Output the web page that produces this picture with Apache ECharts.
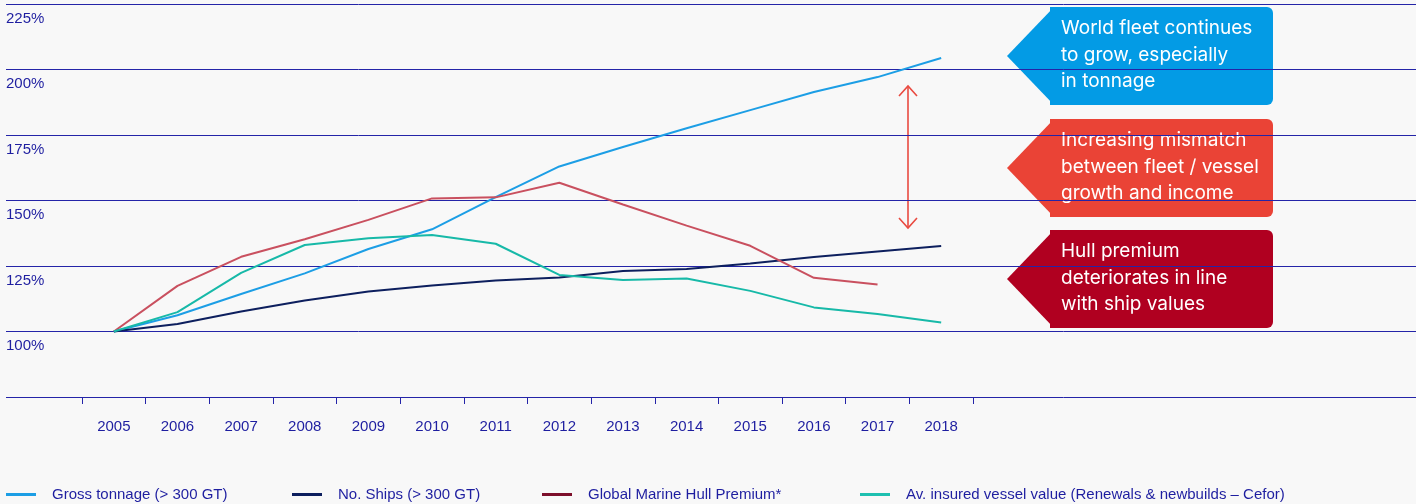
<!DOCTYPE html>
<html>
<head>
<meta charset="utf-8">
<script src="https://cdn.jsdelivr.net/npm/echarts@6/dist/echarts.min.js"></script>
<style>
  html, body { margin: 0; padding: 0; background: #f8f8f8; }
  #chart { width: 1416px; height: 504px; }
</style>
</head>
<body>
<div id="chart"></div>
<script>
  // data (index, 2005 = 100%)
  var years = ['2005','2006','2007','2008','2009','2010','2011','2012','2013','2014','2015','2016','2017','2018'];
  var grossTonnage = [100, 106.2, 114.3, 122.2, 131.5, 139, 151.3, 163, 170.4, 177.6, 184.5, 191.4, 197.1, 204.4];
  var noShips = [100, 102.9, 107.6, 111.8, 115.3, 117.6, 119.5, 120.6, 123.1, 123.9, 126, 128.4, 130.5, 132.6];
  var hullPremium = [100, 117.4, 128.5, 135.2, 142.6, 150.8, 151.2, 156.8, 148.5, 140.4, 132.7, 120.5, 117.9];
  var insuredValue = [100, 107.4, 122.4, 133, 135.6, 136.8, 133.5, 121.6, 119.7, 120.2, 115.5, 109.2, 106.7, 103.4];
  var yTicks = [75, 100, 125, 150, 175, 200, 225];

  var seriesNames = ['Gross tonnage (> 300 GT)', 'No. Ships (> 300 GT)', 'Global Marine Hull Premium*', 'Av. insured vessel value (Renewals & newbuilds \u2013 Cefor)'];
  var seriesData = [grossTonnage, noShips, hullPremium, insuredValue];
  var lineColors = ['#1c9ee5', '#0d1f5e', '#c9505f', '#17b9a8'];
  var legendColors = ['#1c9ee5', '#0d1f5e', '#7d0f2b', '#1fc0b0'];
  var legendLeft = [6, 292, 542, 860];

  var callouts = [
    {text: 'World fleet continues\nto grow, especially\nin tonnage', color: '#039be5', top: 7},
    {text: 'Increasing mismatch\nbetween fleet / vessel\ngrowth and income', color: '#ea4336', top: 119},
    {text: 'Hull premium\ndeteriorates in line\nwith ship values', color: '#b00020', top: 230}
  ];

  var axisBlue = '#2424a8';
  var textBlue = '#1e1ea0';

  var myChart = echarts.init(document.getElementById('chart'));

  var series = [];
  for (var i = 0; i < seriesNames.length; i++) {
    series.push({
      name: seriesNames[i],
      type: 'line',
      xAxisIndex: 1,
      yAxisIndex: 1,
      data: seriesData[i],
      symbol: 'none',
      color: lineColors[i],
      lineStyle: { width: 2, color: lineColors[i] }
    });
  }

  var legends = [];
  for (var j = 0; j < seriesNames.length; j++) {
    legends.push({
      data: [{ name: seriesNames[j], itemStyle: { color: legendColors[j] } }],
      left: legendLeft[j],
      top: 487,
      padding: 0,
      icon: 'rect',
      itemWidth: 30,
      itemHeight: 3,
      selectedMode: false,
      textStyle: {
        color: textBlue,
        fontFamily: 'Liberation Sans',
        fontSize: 15,
        padding: [0, 0, 0, 11]
      }
    });
  }

  var graphics = [];
  // callout boxes with arrow to the left
  callouts.forEach(function (c) {
    var t = c.top, h = 98;
    graphics.push({
      type: 'rect',
      shape: { x: 1050, y: t, width: 223, height: h, r: [0, 6, 6, 0] },
      style: { fill: c.color }
    });
    graphics.push({
      type: 'polygon',
      shape: { points: [[1054, t], [1007, t + h / 2], [1054, t + h]] },
      style: { fill: c.color }
    });
    graphics.push({
      type: 'text',
      x: 1061,
      y: t + h / 2 - 1,
      style: {
        text: c.text,
        fill: '#ffffff',
        font: '19px Inter',
        lineHeight: 26.5,
        verticalAlign: 'middle',
        align: 'left'
      }
    });
  });
  // red double-headed arrow
  var arrowStyle = { stroke: '#e94a40', lineWidth: 1.6, fill: null };
  graphics.push({ type: 'line', shape: { x1: 908, y1: 86, x2: 908, y2: 228 }, style: arrowStyle });
  graphics.push({ type: 'polyline', shape: { points: [[899, 96], [908, 86], [917, 96]] }, style: arrowStyle });
  graphics.push({ type: 'polyline', shape: { points: [[899, 218], [908, 228], [917, 218]] }, style: arrowStyle });

  var option = {
    backgroundColor: '#f8f8f8',
    animation: false,
    grid: [
      { left: 6, right: 0, top: 4, bottom: 107 },
      { left: 82, right: 443, top: 4, bottom: 107 }
    ],
    xAxis: [
      { gridIndex: 0, type: 'value', show: false, min: 0, max: 1 },
      {
        gridIndex: 1,
        type: 'category',
        data: years,
        boundaryGap: true,
        axisLine: { show: true, lineStyle: { color: axisBlue, width: 1 } },
        axisTick: { show: true, length: 7, lineStyle: { color: axisBlue } },
        axisLabel: {
          color: textBlue,
          fontFamily: 'Liberation Sans',
          fontSize: 15,
          margin: 22
        }
      }
    ],
    yAxis: [
      {
        gridIndex: 0,
        type: 'value',
        min: yTicks[0],
        max: yTicks[yTicks.length - 1],
        interval: 25,
        axisLine: { show: false },
        axisTick: { show: false },
        splitLine: { show: true, lineStyle: { color: axisBlue, width: 1 } },
        axisLabel: {
          inside: true,
          margin: 0,
          showMinLabel: false,
          align: 'left',
          verticalAlign: 'top',
          padding: [7, 0, 0, 0],
          color: textBlue,
          fontFamily: 'Liberation Sans',
          fontSize: 15,
          formatter: '{value}%'
        }
      },
      {
        gridIndex: 1,
        type: 'value',
        min: yTicks[0],
        max: yTicks[yTicks.length - 1],
        interval: 25,
        show: false
      }
    ],
    legend: legends,
    graphic: graphics,
    series: series
  };
  myChart.setOption(option);
</script>
</body>
</html>
